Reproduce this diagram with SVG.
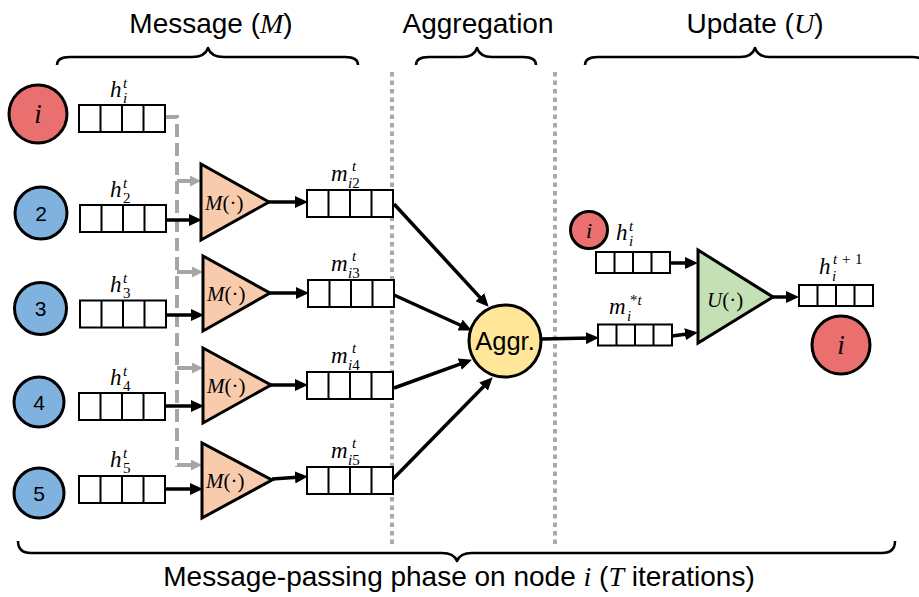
<svg xmlns="http://www.w3.org/2000/svg" width="919" height="597" viewBox="0 0 919 597">
  <style>
    .box { fill: #fff; stroke: #000; stroke-width: 2; }
    .cell { fill: none; stroke: #000; stroke-width: 2; }
    .red { fill: #ea7070; stroke: #000; stroke-width: 3; }
    .blue { fill: #80b2df; stroke: #000; stroke-width: 3; }
    .tri-m { fill: #f8cbad; stroke: #000; stroke-width: 3; stroke-linejoin: miter; }
    .tri-u { fill: #c5e0b4; stroke: #000; stroke-width: 3; stroke-linejoin: miter; }
    .aggr { fill: #ffe699; stroke: #000; stroke-width: 3; }
    .arrow { fill: none; stroke: #000; stroke-width: 3.5; marker-end: url(#ah); }
    .feed { fill: none; stroke: #a6a6a6; stroke-width: 4; stroke-dasharray: 13 6; }
    .feed-tip { fill: none; stroke: #a6a6a6; stroke-width: 4; marker-end: url(#gah); }
    .sep { fill: none; stroke: #aaaaaa; stroke-width: 4; stroke-dasharray: 4.5 4; }
    .brace { fill: none; stroke: #000; stroke-width: 2.5; stroke-linejoin: round; }
    .title { font-family: "Liberation Sans", Arial, sans-serif; font-size: 28px; fill: #000; }
    .math { font-family: "Liberation Serif", "Times New Roman", serif; fill: #000; }
    .mi { font-family: "Liberation Serif", "Times New Roman", serif; font-style: italic; }
    .rm { font-family: "Liberation Serif", "Times New Roman", serif; font-style: normal; }
    .lbl { font-size: 23px; }
    .sml { font-size: 15px; }
    .fn { font-size: 21px; }
    .num { font-family: "Liberation Sans", Arial, sans-serif; font-size: 21px; text-anchor: middle; fill: #000; }
  </style>
  <defs>
    <marker id="ah" markerUnits="userSpaceOnUse" markerWidth="13" markerHeight="12" refX="6" refY="6" orient="auto">
      <path d="M0,0 L13,6 L0,12 z" fill="#000"/>
    </marker>
    <marker id="gah" markerUnits="userSpaceOnUse" markerWidth="11" markerHeight="11" refX="5" refY="5.5" orient="auto">
      <path d="M0,0 L11,5.5 L0,11 z" fill="#a6a6a6"/>
    </marker>
    <!-- 4-cell feature vectors -->
    <g id="vec">
      <rect x="0" y="0" width="86" height="27" class="box"/>
      <path d="M21.5,0V27M43,0V27M64.5,0V27" class="cell"/>
    </g>
    <g id="vec-s">
      <rect x="0" y="0" width="74" height="21" class="box"/>
      <path d="M18.5,0V21M37,0V21M55.5,0V21" class="cell"/>
    </g>
  </defs>

  <rect x="0" y="0" width="919" height="597" fill="#fff"/>

  <!-- stage titles and braces -->
  <g id="stage-labels">
    <text class="title" x="211" y="33" text-anchor="middle">Message (<tspan class="mi">M</tspan>)</text>
    <text class="title" x="478" y="33" text-anchor="middle">Aggregation</text>
    <text class="title" x="755" y="33" text-anchor="middle">Update (<tspan class="mi">U</tspan>)</text>
    <path class="brace" d="M57,65 Q57,57 70,57 L192,57 Q205,57 208,48 Q211,57 224,57 L345,57 Q358,57 358,65"/>
    <path class="brace" d="M416,65 Q416,57 429,57 L462,57 Q474,57 477,48 Q480,57 492,57 L523,57 Q536,57 536,65"/>
    <path class="brace" d="M585,65 Q585,57 598,57 L740,57 Q752,57 755,48 Q758,57 770,57 L912,57 Q925,57 925,65"/>
    <path class="brace" d="M18,541 Q18,553 31,553 L442,553 Q454,553 457,561 Q460,553 472,553 L882,553 Q895,553 895,541"/>
    <text class="title" x="459" y="586" text-anchor="middle" font-size="28.6">Message-passing phase on node <tspan class="mi">i</tspan> (<tspan class="mi">T</tspan> iterations)</text>
  </g>

  <!-- stage separators -->
  <g id="separators">
    <line class="sep" x1="392" y1="72" x2="392" y2="544"/>
    <line class="sep" x1="555" y1="72" x2="555" y2="544"/>
  </g>

  <!-- connectors -->
  <g id="connectors">
    <!-- h_i^t fed to every message function -->
    <path class="feed" d="M165,117 H177 V467"/>
    <path class="feed-tip" d="M177,181 H195"/>
    <path class="feed-tip" d="M177,272 H197"/>
    <path class="feed-tip" d="M177,368 H197"/>
    <path class="feed-tip" d="M177,465 H196"/>
    <!-- neighbour states into message functions -->
    <path class="arrow" d="M166,220 H195"/>
    <path class="arrow" d="M166,315 H197"/>
    <path class="arrow" d="M165,406 H197"/>
    <path class="arrow" d="M165,489 H196"/>
    <!-- message function outputs -->
    <path class="arrow" d="M269,202 H301"/>
    <path class="arrow" d="M270,293 H302"/>
    <path class="arrow" d="M271,385 H301"/>
    <path class="arrow" d="M272,479 L301,477"/>
    <!-- messages into aggregator -->
    <path class="arrow" d="M394,204 L483.9,301.6"/>
    <path class="arrow" d="M394,295 L465.5,327.5"/>
    <path class="arrow" d="M394,388 L465.4,362.1"/>
    <path class="arrow" d="M393,479 L487.8,382.3"/>
    <!-- aggregated message -->
    <path class="arrow" d="M541,339 L592,338"/>
    <!-- update inputs and output -->
    <path class="arrow" d="M670,263 H691"/>
    <path class="arrow" d="M672,336 L691,333.5"/>
    <path class="arrow" d="M773,297 H792"/>
  </g>

  <!-- graph nodes -->
  <g id="node-i">
    <circle class="red" cx="38" cy="114" r="29"/>
    <text class="math mi" x="38" y="123" font-size="27" text-anchor="middle">i</text>
  </g>
  <g id="node-2">
    <circle class="blue" cx="41" cy="213" r="26"/>
    <text class="num" x="41" y="220.5">2</text>
  </g>
  <g id="node-3">
    <circle class="blue" cx="40.5" cy="308.5" r="26"/>
    <text class="num" x="40.5" y="316">3</text>
  </g>
  <g id="node-4">
    <circle class="blue" cx="39" cy="402" r="25"/>
    <text class="num" x="39" y="409.5">4</text>
  </g>
  <g id="node-5">
    <circle class="blue" cx="39" cy="493" r="25"/>
    <text class="num" x="39" y="500.5">5</text>
  </g>

  <!-- node states h^t -->
  <g id="state-hi">
    <use href="#vec" x="79" y="105"/>
    <text class="math"><tspan class="mi lbl" x="110" y="97">h</tspan><tspan class="mi sml" x="123" y="88">t</tspan><tspan class="mi sml" x="123" y="103">i</tspan></text>
  </g>
  <g id="state-h2">
    <use href="#vec" x="80" y="205"/>
    <text class="math"><tspan class="mi lbl" x="110" y="197">h</tspan><tspan class="mi sml" x="123" y="188">t</tspan><tspan class="rm sml" x="123" y="203">2</tspan></text>
  </g>
  <g id="state-h3">
    <use href="#vec" x="80" y="300.5"/>
    <text class="math"><tspan class="mi lbl" x="110" y="292">h</tspan><tspan class="mi sml" x="123" y="283">t</tspan><tspan class="rm sml" x="123" y="298">3</tspan></text>
  </g>
  <g id="state-h4">
    <use href="#vec" x="79" y="393"/>
    <text class="math"><tspan class="mi lbl" x="110" y="385">h</tspan><tspan class="mi sml" x="123" y="376">t</tspan><tspan class="rm sml" x="123" y="391">4</tspan></text>
  </g>
  <g id="state-h5">
    <use href="#vec" x="79" y="476"/>
    <text class="math"><tspan class="mi lbl" x="110" y="467">h</tspan><tspan class="mi sml" x="123" y="458">t</tspan><tspan class="rm sml" x="123" y="473">5</tspan></text>
  </g>

  <!-- message functions -->
  <g id="msg-fn-2">
    <polygon class="tri-m" points="201,164 201,240 269,202"/>
    <text class="math fn" x="205" y="210"><tspan class="mi">M</tspan><tspan class="rm">(·)</tspan></text>
  </g>
  <g id="msg-fn-3">
    <polygon class="tri-m" points="203,256 203,331 270,293"/>
    <text class="math fn" x="207" y="301"><tspan class="mi">M</tspan><tspan class="rm">(·)</tspan></text>
  </g>
  <g id="msg-fn-4">
    <polygon class="tri-m" points="203,348 203,423 271,385"/>
    <text class="math fn" x="207" y="393"><tspan class="mi">M</tspan><tspan class="rm">(·)</tspan></text>
  </g>
  <g id="msg-fn-5">
    <polygon class="tri-m" points="202,443 202,518 272,480"/>
    <text class="math fn" x="206" y="488"><tspan class="mi">M</tspan><tspan class="rm">(·)</tspan></text>
  </g>

  <!-- messages m^t -->
  <g id="msg-i2">
    <use href="#vec" x="307" y="190"/>
    <text class="math"><tspan class="mi lbl" x="331" y="181">m</tspan><tspan class="mi sml" x="352" y="171">t</tspan><tspan class="mi sml" x="348" y="188">i</tspan><tspan class="rm sml">2</tspan></text>
  </g>
  <g id="msg-i3">
    <use href="#vec" x="308" y="280"/>
    <text class="math"><tspan class="mi lbl" x="331" y="271">m</tspan><tspan class="mi sml" x="352" y="261">t</tspan><tspan class="mi sml" x="348" y="278">i</tspan><tspan class="rm sml">3</tspan></text>
  </g>
  <g id="msg-i4">
    <use href="#vec" x="307" y="372"/>
    <text class="math"><tspan class="mi lbl" x="331" y="363">m</tspan><tspan class="mi sml" x="352" y="353">t</tspan><tspan class="mi sml" x="348" y="370">i</tspan><tspan class="rm sml">4</tspan></text>
  </g>
  <g id="msg-i5">
    <use href="#vec" x="307" y="467"/>
    <text class="math"><tspan class="mi lbl" x="331" y="458">m</tspan><tspan class="mi sml" x="352" y="448">t</tspan><tspan class="mi sml" x="348" y="465">i</tspan><tspan class="rm sml">5</tspan></text>
  </g>

  <!-- aggregator -->
  <g id="aggregator">
    <circle class="aggr" cx="505" cy="341" r="36"/>
    <text x="505" y="350" font-family="Liberation Sans, Arial, sans-serif" font-size="25.5" text-anchor="middle">Aggr.</text>
  </g>

  <!-- update stage -->
  <g id="update-node-i">
    <circle class="red" cx="589" cy="230" r="18.5"/>
    <text class="math mi" x="589" y="237.5" font-size="22" text-anchor="middle">i</text>
  </g>
  <g id="update-hi">
    <use href="#vec-s" x="596" y="252"/>
    <text class="math"><tspan class="mi lbl" x="616" y="240">h</tspan><tspan class="mi sml" x="629" y="231">t</tspan><tspan class="mi sml" x="629" y="246">i</tspan></text>
  </g>
  <g id="agg-msg">
    <use href="#vec-s" x="598" y="324.5"/>
    <text class="math"><tspan class="mi lbl" x="609" y="314">m</tspan><tspan class="rm sml" x="630" y="305">*</tspan><tspan class="mi sml">t</tspan><tspan class="mi sml" x="627" y="321">i</tspan></text>
  </g>
  <g id="update-fn">
    <polygon class="tri-u" points="698,250 698,343 773,297"/>
    <text class="math fn" x="707" y="307"><tspan class="mi">U</tspan><tspan class="rm">(·)</tspan></text>
  </g>
  <g id="new-state">
    <use href="#vec-s" x="799" y="285"/>
    <text class="math"><tspan class="mi lbl" x="819" y="274">h</tspan><tspan class="mi sml" x="833" y="264">t</tspan><tspan class="rm sml" x="842" y="264">+</tspan><tspan class="rm sml" x="855" y="264">1</tspan><tspan class="mi sml" x="832" y="281">i</tspan></text>
  </g>
  <g id="update-node-i-out">
    <circle class="red" cx="841" cy="345" r="29"/>
    <text class="math mi" x="841" y="354" font-size="27" text-anchor="middle">i</text>
  </g>
</svg>
